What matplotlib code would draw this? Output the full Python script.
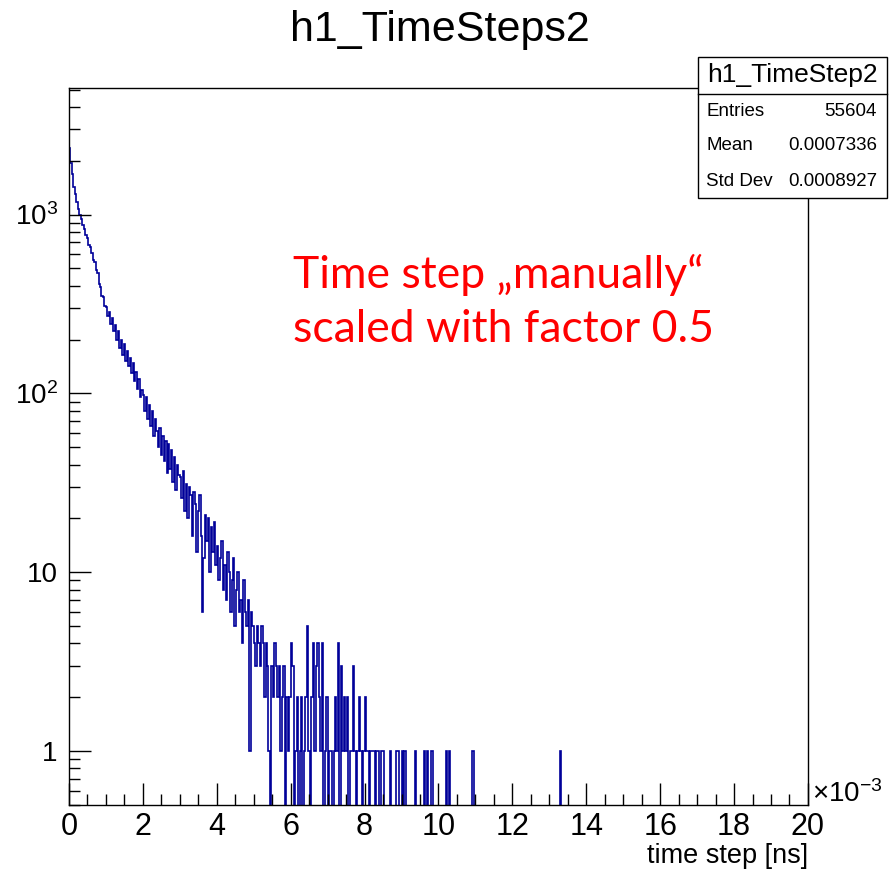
import numpy as np
import matplotlib
matplotlib.use("Agg")
import matplotlib.pyplot as plt
from matplotlib.ticker import FixedLocator, FixedFormatter, MultipleLocator, LogLocator, NullFormatter

plt.rcParams['font.family'] = ['Liberation Sans', 'DejaVu Sans']
plt.rcParams['mathtext.default'] = 'regular'

# histogram h1_TimeSteps2, x in units of 1e-3 ns, bin width 0.04
bin_width = 0.04
counts = [
    # 0.00 - 1.00
    2350, 1950, 1680, 1420, 1310, 1170, 1080, 990, 950, 870, 830, 770, 740,
    680, 660, 610, 560, 545, 490, 470, 410, 395, 350, 345, 310,
    # 1.00 - 2.00
    305, 270, 285, 245, 265, 222, 240, 200, 222, 180, 198, 165, 188,
    152, 172, 143, 158, 130, 148, 118, 132, 106, 120, 95, 104,
    # 2.00 - 3.00
    98, 80, 95, 72, 86, 66, 80, 58, 72, 62, 50, 64, 45,
    58, 42, 54, 36, 52, 38, 48, 32, 44, 29, 40, 35,
    # 3.00 - 4.00
    34, 26, 37, 22, 31, 20, 30, 27, 16, 28, 24, 13, 22,
    27, 16, 6, 12, 21, 15, 20, 10, 18, 13, 19, 11,
    # 4.00 - 5.00
    14, 9, 12, 15, 8, 11, 7, 13, 10, 6, 9, 12, 5,
    8, 10, 6, 7, 4, 9, 6, 5, 7, 1, 6, 5,
    # 5.00 - 6.00
    4, 3, 5, 4, 3, 5, 4, 2, 4, 3, 1, 0, 3,
    2, 4, 3, 2, 3, 1, 2, 3, 0, 2, 1, 2,
    # 6.00 - 7.00
    4, 3, 0, 1, 2, 0, 1, 2, 0, 1, 2, 5, 1,
    0, 2, 4, 1, 3, 4, 2, 1, 4, 0, 1, 2,
    # 7.00 - 8.00
    0, 1, 1, 0, 1, 2, 1, 4, 0, 3, 1, 2, 1,
    2, 0, 1, 1, 3, 1, 0, 1, 2, 1, 0, 1,
    # 8.00 - 8.52
    2, 1, 1, 0, 1, 1, 1, 0, 1, 1, 0, 1, 1,
]
# isolated single entries in the tail
tail_x = [8.71, 8.87, 8.91, 9.03, 9.11, 9.38, 9.62, 9.68, 9.83, 10.23, 10.31, 10.94, 13.29]

n_bins = 500
edges = np.linspace(0, 20, n_bins + 1)
h = np.zeros(n_bins)
h[:len(counts)] = counts
for x in tail_x:
    h[int(x / bin_width)] += 1

fig = plt.figure(figsize=(8.91, 8.69), dpi=100)
ax = fig.add_axes([0.0774, 0.0737, 0.8294, 0.8250])

ax.stairs(np.where(h > 0, h, 1e-3), edges, color='#000099', linewidth=1.2, baseline=None)

ax.set_yscale('log')
ax.set_xlim(0, 20)
ax.set_ylim(0.5, 5100)

# ROOT-like ticks
ax.xaxis.set_major_locator(MultipleLocator(2))
ax.xaxis.set_minor_locator(MultipleLocator(0.5))
ax.yaxis.set_major_locator(FixedLocator([1, 10, 100, 1000]))
ax.yaxis.set_major_formatter(FixedFormatter(['1', '10', '$10^{2}$', '$10^{3}$']))
ax.yaxis.set_minor_locator(LogLocator(base=10, subs=np.arange(2, 10)))
ax.yaxis.set_minor_formatter(NullFormatter())
ax.tick_params(which='both', direction='in', top=False, right=False)
ax.tick_params(which='major', length=16, width=1.0)
ax.tick_params(which='minor', length=8, width=1.0)
ax.tick_params(axis='x', labelsize=22, pad=5)
ax.tick_params(axis='y', labelsize=20, pad=8)
for s in ax.spines.values():
    s.set_linewidth(1.0)

fig.text(808 / 891, 1 - 863 / 869, 'time step [ns]', fontsize=19.5, ha='right', va='baseline')
fig.text(0.911, 0.086, r'$\times10^{-3}$', fontsize=20, ha='left', va='center')

fig.text(0.494, 0.965, 'h1_TimeSteps2', fontsize=31, ha='center', va='center')

# stats box
bx0, bx1 = 698 / 891, 887 / 891
by0, by1 = 1 - 198 / 869, 1 - 57 / 869
ysep = 1 - 94 / 869
box = plt.Rectangle((bx0, by0), bx1 - bx0, by1 - by0, transform=fig.transFigure,
                    facecolor='white', edgecolor='black', linewidth=1.0, zorder=5)
fig.add_artist(box)
fig.add_artist(plt.Line2D([bx0, bx1], [ysep, ysep], transform=fig.transFigure,
                          color='black', linewidth=1.0, zorder=6))
fig.text((bx0 + bx1) / 2, 1 - 75 / 869, 'h1_TimeStep2', fontsize=19,
         ha='center', va='center', zorder=7)
stats_names = ['Entries', 'Mean', 'Std Dev']
stats_vals = ['55604', '0.0007336', '0.0008927']
stats_y = [111, 146, 182]
for name, val, yy in zip(stats_names, stats_vals, stats_y):
    fig.text(706 / 891, 1 - yy / 869, name, fontsize=13.5, ha='left', va='center', zorder=7)
    fig.text(877 / 891, 1 - yy / 869, val, fontsize=13.5, ha='right', va='center', zorder=7)

# slide annotation
ax.text(293 / 891, 1 - 275 / 869, 'Time step \u201emanually\u201c', transform=fig.transFigure,
        fontsize=32, color='red', ha='left', va='center', family=['Lato', 'DejaVu Sans'])
ax.text(293 / 891, 1 - 330 / 869, 'scaled with factor 0.5', transform=fig.transFigure,
        fontsize=32, color='red', ha='left', va='center', family=['Lato', 'DejaVu Sans'])

fig.savefig('out.png', dpi=100)
